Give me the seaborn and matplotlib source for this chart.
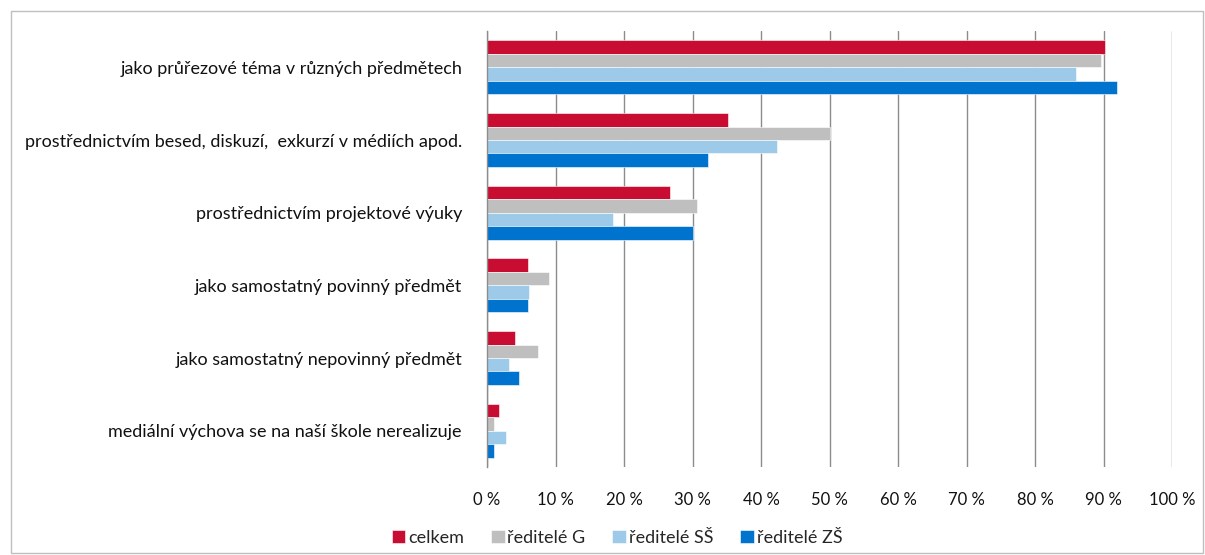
import matplotlib
matplotlib.use("Agg")
import matplotlib.pyplot as plt
import seaborn as sns
import pandas as pd
from matplotlib.patches import Rectangle
from matplotlib.ticker import FixedLocator

categories = [
    "jako průřezové téma v různých předmětech",
    "prostřednictvím besed, diskuzí,  exkurzí v médiích apod.",
    "prostřednictvím projektové výuky",
    "jako samostatný povinný předmět",
    "jako samostatný nepovinný předmět",
    "mediální výchova se na naší škole nerealizuje",
]
series = ["celkem", "ředitelé G", "ředitelé SŠ", "ředitelé ZŠ"]
celkem = [90.2, 35.2, 26.7, 6.0, 4.1, 1.8]
reditele_g = [89.7, 50.0, 30.7, 9.1, 7.4, 1.0]
reditele_ss = [86.0, 42.3, 18.4, 6.1, 3.2, 2.8]
reditele_zs = [92.0, 32.2, 30.0, 6.0, 4.7, 1.0]
xticks = [0, 10, 20, 30, 40, 50, 60, 70, 80, 90, 100]
xticklabels = [f"{v} %" for v in xticks]
colors = ["#C80C32", "#BFBFBF", "#9DCAE9", "#0073CF"]

rows = []
for name, vals in zip(series, [celkem, reditele_g, reditele_ss, reditele_zs]):
    for c, v in zip(categories, vals):
        rows.append({"kategorie": c, "skupina": name, "hodnota": v})
df = pd.DataFrame(rows)

sns.set_theme(style="white")
plt.rcParams["font.family"] = ["Lato", "DejaVu Sans"]

fig = plt.figure(figsize=(12.05, 5.55), dpi=100)
ax = fig.add_axes([487 / 1205, 1 - 467 / 555, (1172 - 487) / 1205, (467 - 31) / 555])

sns.barplot(data=df, y="kategorie", x="hodnota", hue="skupina", order=categories,
            hue_order=series, palette=colors, orient="h", width=0.74,
            edgecolor="white", linewidth=0.4, saturation=1, ax=ax, legend=True)

ax.set_xlim(0, 100)
ax.set_ylim(5.5, -0.5)
ax.set_xticks(xticks)
ax.set_xticklabels(xticklabels, fontsize=12, color="#111111")
ax.grid(axis="x", color="#8C8C8C", linewidth=1)
ax.set_axisbelow(True)
ax.set_xlabel("")
ax.set_ylabel("")
for s in ["top", "right", "bottom"]:
    ax.spines[s].set_visible(False)
ax.spines["left"].set_color("#8C8C8C")
ax.spines["left"].set_linewidth(1)
ax.tick_params(axis="x", length=0, pad=18)
ax.tick_params(axis="y", which="major", length=0, pad=18, labelsize=13, labelcolor="#111111")
ax.yaxis.set_minor_locator(FixedLocator([i - 0.5 for i in range(len(categories) + 1)]))
ax.tick_params(axis="y", which="minor", length=5, width=1, color="#8C8C8C", direction="out")

handles, labels = ax.get_legend_handles_labels()
ax.get_legend().remove()
fig.legend(handles, labels, loc="center", bbox_to_anchor=(617 / 1205, 1 - 538 / 555),
           ncol=4, frameon=False, fontsize=13, handlelength=0.75, handleheight=0.75,
           handletextpad=0.15, columnspacing=1.5)

fig.patches.append(Rectangle((11 / 1205, 2 / 555), (1203 - 11) / 1205, (544 - 2) / 555,
                             transform=fig.transFigure, fill=False,
                             edgecolor="#BFBFBF", linewidth=1))

fig.savefig("out.png", dpi=100)
